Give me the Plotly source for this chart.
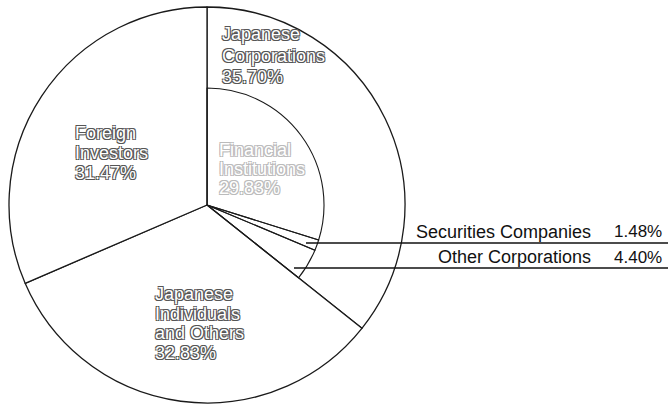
import plotly.graph_objects as go

W, H = 668, 404

# outer ring: shareholder groups (% of shares)
groups = ["Japanese Corporations", "Japanese Individuals and Others", "Foreign Investors"]
group_pct = [35.70, 32.83, 31.47]

# breakdown of Japanese Corporations (inner circle)
corp_parts = ["Financial Institutions", "Securities Companies", "Other Corporations"]
corp_pct = [29.83, 1.48, 4.40]

# pie geometry in pixels
cx, cy, r_out, r_in = 207, 205, 198, 117


def px(x, y):
    return x / W, 1 - y / H


def dom(r):
    x0, y0 = px(cx - r, cy + r)
    x1, y1 = px(cx + r, cy - r)
    return {"x": [x0, x1], "y": [y0, y1]}


fig = go.Figure()

fig.add_trace(go.Pie(
    labels=groups, values=group_pct, sort=False, direction="clockwise",
    rotation=0, textinfo="none", hoverinfo="skip", showlegend=False,
    marker=dict(colors=["white"] * 3, line=dict(color="#1a1a1a", width=1.3)),
    domain=dom(r_out),
))

rest = 100 - sum(corp_pct)
fig.add_trace(go.Pie(
    labels=corp_parts + ["rest"], values=corp_pct + [rest], sort=False,
    direction="clockwise", rotation=0, textinfo="none", hoverinfo="skip",
    showlegend=False,
    marker=dict(colors=["rgba(0,0,0,0)"] * 4,
                line=dict(color="#1a1a1a", width=[1.1, 1.1, 1.1, 0])),
    domain=dom(r_in),
))

# hollow-looking lettering like the printed original
outline = "-1px -1px 0 #555, 1px -1px 0 #555, -1px 1px 0 #555, 1px 1px 0 #555"
faint = "-1px -1px 0 #bbb, 1px -1px 0 #bbb, -1px 1px 0 #bbb, 1px 1px 0 #bbb"
font_main = "Liberation Sans, Arial, sans-serif"

# (lines, left x, centre y of first line, line step, style)
pie_labels = [
    (["Japanese", "Corporations", "%.2f%%" % group_pct[0]], 220, 34, 21.5, outline),
    (["Financial", "Institutions", "%.2f%%" % corp_pct[0]], 217, 150, 19, faint),
    (["Foreign", "Investors", "%.2f%%" % group_pct[2]], 73, 133, 20, outline),
    (["Japanese", "Individuals", "and Others", "%.2f%%" % group_pct[1]], 153, 294, 19.5, outline),
]
for lines, x, y0, step, sh in pie_labels:
    for i, line in enumerate(lines):
        ax, ay = px(x, y0 + i * step)
        fig.add_annotation(
            text=line, x=ax, y=ay, xref="paper", yref="paper", xanchor="left",
            yanchor="middle", align="left", showarrow=False,
            font=dict(family=font_main, size=18, color="white", shadow=sh),
        )

# callouts for the small slices
callouts = [(corp_parts[1], corp_pct[1], 232, 243, 306),
            (corp_parts[2], corp_pct[2], 257, 268, 294)]
for name, val, ty, ly, lx in callouts:
    ax, ay = px(593, ty)
    fig.add_annotation(text=name, x=ax, y=ay, xref="paper", yref="paper",
                       xanchor="right", yanchor="middle", showarrow=False,
                       font=dict(family=font_main, size=18, color="#111"))
    ax, ay = px(664, ty)
    fig.add_annotation(text="%.2f%%" % val, x=ax, y=ay, xref="paper", yref="paper",
                       xanchor="right", yanchor="middle", showarrow=False,
                       font=dict(family=font_main, size=17, color="#111"))
    x0, y0 = px(lx, ly)
    x1, _ = px(W, ly)
    fig.add_shape(type="line", xref="paper", yref="paper", x0=x0, x1=x1,
                  y0=y0, y1=y0, line=dict(color="#111", width=1.5))

fig.update_layout(width=W, height=H, margin=dict(l=0, r=0, t=0, b=0),
                  paper_bgcolor="white", plot_bgcolor="white")

fig.write_html("out.html", config={"displayModeBar": False},
               post_script="document.body.style.margin='0';")
